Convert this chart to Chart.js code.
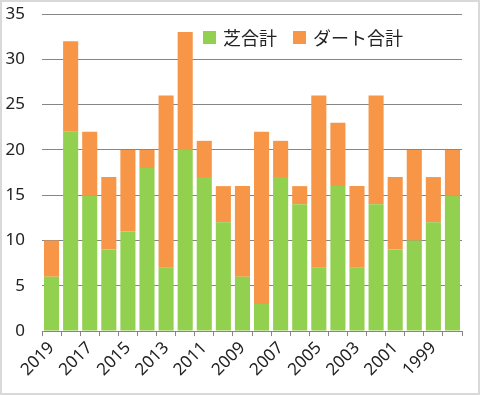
<!DOCTYPE html>
<html>
<head>
<meta charset="utf-8">
<script src="https://cdn.jsdelivr.net/npm/chart.js@4"></script>
<style>
  html, body { margin: 0; padding: 0; background: #fff; }
  #wrap {
    width: 480px; height: 395px; box-sizing: border-box;
    border: 2px solid #d9d9d9; background: #fff;
  }
</style>
</head>
<body>
<div id="wrap"><canvas id="barChart" width="476" height="391"></canvas></div>
<script>
const years = ["2019", "2018", "2017", "2016", "2015", "2014", "2013", "2012", "2011", "2010", "2009",
	"2008", "2007", "2006", "2005", "2004", "2003", "2002", "2001", "2000", "1999", "1998"];
const turf = [6, 22, 15, 9, 11, 18, 7, 20, 17, 12, 6, 3, 17, 14, 7, 16, 7, 14, 9, 10, 12, 15];
const dirt = [4, 10, 7, 8, 9, 2, 19, 13, 4, 4, 10, 19, 4, 2, 19, 7, 9, 12, 8, 10, 5, 5];
const seriesNames = ["芝合計", "ダート合計"];

const numFont = "'Noto Sans', 'Open Sans', sans-serif";
const cjkFont = "'Noto Sans CJK JP', sans-serif";

const ctx = document.getElementById("barChart").getContext("2d");

// legend drawn inside the plot, top right, like the Excel original
const insideLegend = {
	id: "insideLegend",
	afterDraw(chart) {
		const c = chart.ctx;
		let x = 201;
		const y = 36;
		c.save();
		c.font = "18px " + cjkFont;
		c.textBaseline = "middle";
		chart.data.datasets.forEach((ds) => {
			c.fillStyle = ds.backgroundColor;
			c.fillRect(x, y - 7, 13, 13);
			c.fillStyle = "#222";
			c.fillText(ds.label, x + 20, y);
			x += 20 + c.measureText(ds.label).width + 16;
		});
		c.restore();
	},
};

const data = {
	labels: years,
	datasets: [
		{ label: seriesNames[0], data: turf, backgroundColor: "#92d050" },
		{ label: seriesNames[1], data: dirt, backgroundColor: "#f79646" },
	],
};

const config = {
	type: "bar",
	data: data,
	plugins: [insideLegend],
	options: {
		responsive: false,
		animation: false,
		layout: { padding: { top: 2, right: 16, left: 2, bottom: 11 } },
		datasets: {
			bar: { categoryPercentage: 1, barPercentage: 0.79 },
		},
		plugins: {
			tooltip: { enabled: false },
			legend: { display: false },
		},
		scales: {
			x: {
				stacked: true,
				grid: {
					drawOnChartArea: false,
					drawTicks: true,
					tickLength: 5,
					color: "#868686",
				},
				border: { color: "#868686", width: 1 },
				ticks: {
					autoSkip: false,
					maxRotation: 45,
					minRotation: 45,
					padding: 2,
					color: "#222",
					font: { family: numFont, size: 17 },
					callback: function (value, index) {
						return index % 2 === 0 ? years[index] : "";
					},
				},
			},
			y: {
				stacked: true,
				min: 0,
				max: 35,
				border: { display: false },
				grid: { color: "#868686", drawTicks: false },
				afterFit: function (scale) {
					scale.width = 38;
					scale.paddingTop = 12; // tick padding would otherwise push the plot down
				},
				ticks: {
					stepSize: 5,
					padding: 17,
					color: "#222",
					font: { family: numFont, size: 17 },
				},
			},
		},
	},
};

const barChart = new Chart(ctx, config);
</script>
</body>
</html>
